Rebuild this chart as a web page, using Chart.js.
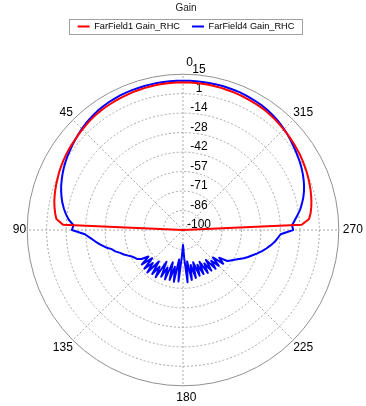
<!DOCTYPE html>
<html>
<head>
<meta charset="utf-8">
<title>Gain</title>
<script src="https://cdn.jsdelivr.net/npm/chart.js"></script>
<style>
    html, body { margin: 0; padding: 0; background: #fff; }
    canvas { display: block; }
</style>
</head>
<body>
<canvas id="myChart" width="366" height="406"></canvas>
<script>
// theta in degrees, counter-clockwise from the top, one sample every 2.5 deg
const angleStep = 2.5;
const angles = [];
for (let a = 0; a < 360; a += angleStep) angles.push(a);
const angleTicks = [0, 45, 90, 135, 180, 225, 270, 315];

const gainTicks = [-100, -85.625, -71.25, -56.875, -42.5, -28.125, -13.75, 0.625, 15];
const gainTickLabels = ['-100', '-86', '-71', '-57', '-42', '-28', '-14', '1', '15'];

// FarField1 Gain_RHC (dB)
const farField1 = [
    8.9, 8.9, 8.9, 8.8, 8.8, 8.7, 8.6, 8.4, 8.3, 8.0, 7.8, 7.6,
    7.4, 7.2, 6.9, 6.6, 6.1, 5.5, 5.0, 4.5, 3.9, 3.5, 3.1, 2.6,
    2.1, 1.5, 0.9, 0.1, -0.5, -1.2, -1.9, -2.7, -3.7, -4.8, -6.2, -11.4,
    -100, -100, -100, -100, -100, -100, -100, -100, -100, -100, -100, -100,
    -100, -100, -100, -100, -100, -100, -100, -100, -100, -100, -100, -100,
    -100, -100, -100, -100, -100, -100, -100, -100, -100, -100, -100, -100,
    -100, -100, -100, -100, -100, -100, -100, -100, -100, -100, -100, -100,
    -100, -100, -100, -100, -100, -100, -100, -100, -100, -100, -100, -100,
    -100, -100, -100, -100, -100, -100, -100, -100, -100, -100, -100, -100,
    -100,
    -12.3, -6.6, -5.0, -3.9, -2.9, -2.1, -1.3, -0.6, 0.1, 0.8, 1.4, 2.0,
    2.6, 3.1, 3.6, 4.1, 4.6, 5.1, 5.6, 6.1, 6.6, 7.0, 7.3, 7.5,
    7.7, 7.9, 8.1, 8.3, 8.4, 8.6, 8.7, 8.8, 8.8, 8.9, 8.9
];

// FarField4 Gain_RHC (dB)
const farField4 = [
    10.2, 10.2, 10.2, 10.2, 10.1, 10.1, 10.0, 9.9, 9.9, 9.7, 9.6, 9.4,
    9.1, 8.7, 8.3, 7.7, 7.1, 6.4, 5.6, 4.7, 3.8, 2.9, 2.0, 1.2,
    0.2, -0.8, -1.9, -3.1, -4.3, -5.7, -7.2, -8.9, -10.8, -13.0, -15.5, -19.1,
    -18.0, -27.5, -31.5, -34.8, -38.1, -41.4, -45.4, -47.6, -50.6, -52.8, -55.3, -57.5,
    -59.0, -60.1, -62.6, -67.8, -60.4, -69.2, -59.7, -67.0, -59.0, -70.7, -60.4, -67.8,
    -59.7, -73.6, -61.9, -70.0, -61.2, -75.1, -61.9, -72.2, -61.2, -78.0, -61.9, -80.2,
    -89.0, -78.8, -61.2, -76.6, -62.6, -73.6, -63.4, -75.1, -64.1, -72.2, -64.1, -73.6,
    -63.4, -70.7, -63.4, -72.2, -62.6, -69.2, -62.6, -70.0, -61.2, -66.3, -60.1, -58.2,
    -56.1, -53.5, -50.6, -48.0, -45.4, -42.5, -39.6, -37.0, -34.4, -31.9, -30.0, -27.9,
    -18.7, -19.4, -17.2, -14.7, -12.1, -10.1, -8.1, -6.4, -4.9, -3.6, -2.4, -1.3,
    -0.3, 0.6, 1.6, 2.5, 3.5, 4.5, 5.4, 6.3, 7.1, 7.7, 8.3, 8.8,
    9.1, 9.4, 9.7, 9.9, 10.0, 10.1, 10.2, 10.2, 10.2, 10.2, 10.2, 10.2
];

// radar runs clockwise, the plot runs counter-clockwise: reorder
const n = angles.length;
const order = angles.map((a, j) => (n - j) % n);
const chartAngles = order.map(k => angles[k]);
const red = order.map(k => farField1[k]);
const blue = order.map(k => farField4[k]);

const fontFamily = '"Liberation Sans", Arial, sans-serif';
Chart.defaults.font.family = fontFamily;
Chart.defaults.color = '#000';

// a bit of room between the legend and the plot
const legendGap = {
    id: 'legendGap',
    beforeInit(chart) {
        const fit = chart.legend.fit;
        chart.legend.fit = function() {
            fit.call(this);
            this.height += 14;
        };
    }
};

// frame round the legend items
const legendFrame = {
    id: 'legendFrame',
    afterDraw(chart) {
        const boxes = chart.legend.legendHitBoxes;
        if (!boxes || !boxes.length) return;
        const first = boxes[0];
        const last = boxes[boxes.length - 1];
        const left = Math.round(first.left - 9) + 0.5;
        const right = Math.round(last.left + last.width + 8) + 0.5;
        const cy = first.top + first.height / 2;
        const top = Math.round(cy - 7.5) + 0.5;
        const c = chart.ctx;
        c.save();
        c.strokeStyle = '#a0a0a0';
        c.lineWidth = 1;
        c.strokeRect(left, top, right - left, 15);
        c.restore();
    }
};

// gain labels along the 0 deg spoke
const gainLabels = {
    id: 'gainLabels',
    beforeDatasetsDraw(chart) {
        const r = chart.scales.r;
        const c = chart.ctx;
        c.save();
        c.font = '12px ' + fontFamily;
        c.fillStyle = '#000';
        c.textAlign = 'center';
        c.textBaseline = 'middle';
        gainTicks.forEach((v, i) => {
            c.fillText(gainTickLabels[i], r.xCenter + 16, r.yCenter - r.getDistanceFromCenterForValue(v) - 5);
        });
        c.restore();
    }
};

const isSpoke = i => angleTicks.includes(chartAngles[i]);

var ctx = document.getElementById('myChart').getContext('2d');
var chart = new Chart(ctx, {
    type: 'radar',
    data: {
        labels: chartAngles,
        datasets: [{
            label: 'FarField1 Gain_RHC',
            data: red,
            borderColor: '#ff0000',
            backgroundColor: '#ff0000',
            borderWidth: 2,
            borderJoinStyle: 'round',
            pointRadius: 0,
            fill: false
        },
        {
            label: 'FarField4 Gain_RHC',
            data: blue,
            borderColor: '#0000ff',
            backgroundColor: '#0000ff',
            borderWidth: 2,
            borderJoinStyle: 'round',
            pointRadius: 0,
            fill: false
        }]
    },
    options: {
        responsive: false,
        animation: false,
        devicePixelRatio: 1,
        events: [],
        layout: { padding: { left: 0, right: -6, top: 0, bottom: 0 } },
        plugins: {
            title: {
                display: true,
                text: 'Gain',
                color: '#222',
                font: { size: 10, weight: 'normal' },
                padding: { top: 2, bottom: -4 }
            },
            legend: {
                labels: {
                    usePointStyle: true,
                    pointStyle: 'line',
                    pointStyleWidth: 12,
                    boxHeight: 9,
                    padding: 12,
                    color: '#000',
                    font: { size: 9.2 }
                }
            },
            tooltip: { enabled: false }
        },
        scales: {
            r: {
                min: -100,
                max: 15,
                startAngle: 0,
                afterBuildTicks: s => { s.ticks = gainTicks.map(v => ({ value: v })); },
                ticks: { display: false },
                grid: {
                    circular: true,
                    color: c => c.index === gainTicks.length - 1 ? '#909090' : '#a8a8a8',
                    lineWidth: 1
                },
                border: {
                    dash: c => c.index === gainTicks.length - 1 ? [] : [2, 2]
                },
                angleLines: {
                    color: '#a8a8a8',
                    lineWidth: c => isSpoke(c.index) ? 1 : 0,
                    borderDash: [2, 2]
                },
                pointLabels: {
                    display: true,
                    color: '#000',
                    font: { size: 12 },
                    padding: c => {
                        const t = String(c.label).trim();
                        if (t === '90') return 1;
                        if (t === '270') return 4;
                        if (t === '45' || t === '135' || t === '225' || t === '315') return 0;
                        return 4.6;
                    },
                    callback: value => {
                        if (!angleTicks.includes(value)) return '';
                        if (value === 0) return '    0';
                        if (value === 90) return '   90';
                        if (value === 180) return '  180';
                        return String(value);
                    }
                }
            }
        }
    },
    plugins: [legendGap, legendFrame, gainLabels]
});
</script>
</body>
</html>
